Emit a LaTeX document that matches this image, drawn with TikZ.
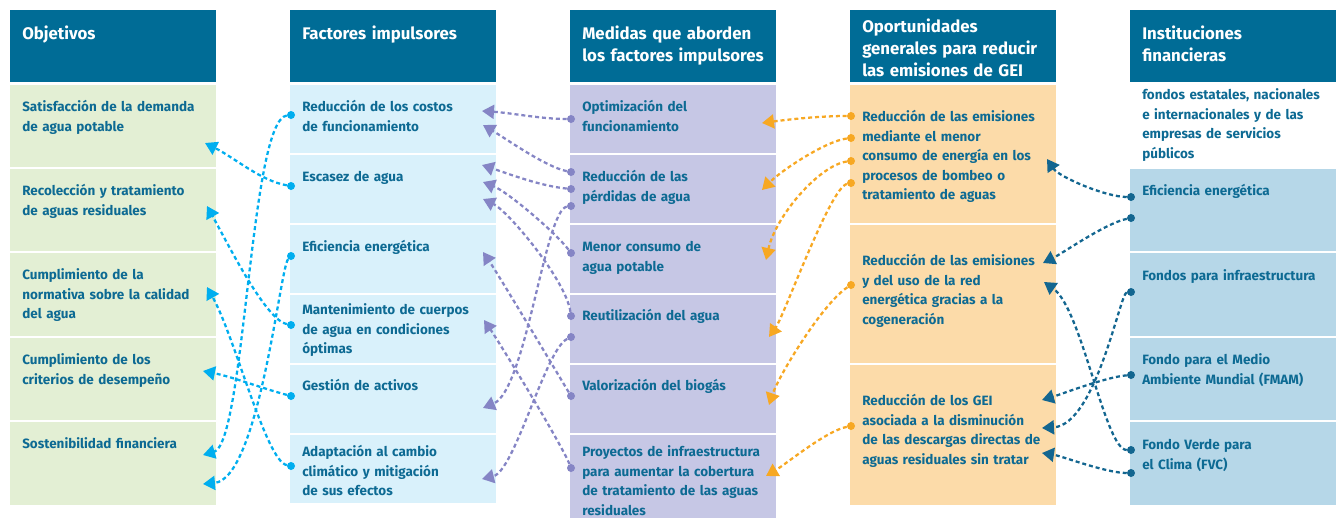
\documentclass[tikz,border=0pt]{standalone}
\usepackage{fontspec}
\setmainfont{Fira Sans}
\usetikzlibrary{arrows.meta}

\definecolor{headblue}{HTML}{006C96}
\definecolor{txtblue}{HTML}{0D6A93}
\definecolor{objgreen}{HTML}{E3EFD4}
\definecolor{facblue}{HTML}{D9F1FB}
\definecolor{medlav}{HTML}{C6C7E5}
\definecolor{opopeach}{HTML}{FCDBA9}
\definecolor{instblue}{HTML}{B6D7E8}
\definecolor{lncyan}{HTML}{00AEEF}
\definecolor{lnpurple}{HTML}{8585C5}
\definecolor{lnorange}{HTML}{F7A823}
\definecolor{lndark}{HTML}{136690}

\begin{document}
\begin{tikzpicture}[x=0.75pt, y=-0.75pt,
	headtxt/.style={anchor=base west, inner sep=0pt, text width=150pt, color=white, font=\fontsize{12.6}{16.5}\selectfont\bfseries},
	boxtxt/.style={anchor=base west, inner sep=0pt, text width=150pt, color=txtblue, font=\fontsize{10.1}{14.7}\selectfont\bfseries},
	dot/.style={circle, fill=#1, inner sep=0pt, minimum size=6pt},
	link/.style={color=#1, line width=1.7pt, dash pattern=on 3pt off 2.2pt, -{Triangle[length=9pt,width=10.5pt]}}]
	\useasboundingbox (0,0) rectangle (1336,518);
	\foreach \x in {10,290,570,850,1130}
	  \fill[headblue] (\x,10) rectangle ++(206,72);
	\foreach \y/\h in {85/82,169/82,253/83,338/82,422/83}
	  \fill[objgreen] (10,\y) rectangle ++(206,\h);
	\foreach \y in {85,155,225,295,365,435}
	  \fill[facblue] (290,\y) rectangle ++(206,68);
	\foreach \y/\h in {85/68,155/68,225/68,295/68,365/68,435/83}
	  \fill[medlav] (570,\y) rectangle ++(206,\h);
	\foreach \y/\h in {85/138,225/138,365/140}
	  \fill[opopeach] (850,\y) rectangle ++(206,\h);
	\foreach \y/\h in {169/82,253/83,338/82,422/83}
	  \fill[instblue] (1130,\y) rectangle ++(206,\h);

	\node[headtxt] (hobj) at (22,39.5) {Objetivos};
	\node[headtxt] (hfac) at (302,39.5) {Factores impulsores};
	\node[headtxt] (hmed) at (582,39.5) {Medidas que aborden\\los factores impulsores};
	\node[headtxt] (hopo) at (862,32.5) {Oportunidades\\generales para reducir\\las emisiones de GEI};
	\node[headtxt] (hinst) at (1142,39.5) {Instituciones\\financieras};

	\node[boxtxt] (obj1) at (22,111.5) {Satisfacción de la demanda\\de agua potable};
	\node[boxtxt] (obj2) at (22,195.5) {Recolección y tratamiento\\de aguas residuales};
	\node[boxtxt] (obj3) at (22,279.5) {Cumplimiento de la\\normativa sobre la calidad\\del agua};
	\node[boxtxt] (obj4) at (22,364.5) {Cumplimiento de los\\criterios de desempeño};
	\node[boxtxt] (obj5) at (22,448.5) {Sostenibilidad financiera};

	\node[boxtxt] (fac1) at (302,111.5) {Reducción de los costos\\de funcionamiento};
	\node[boxtxt] (fac2) at (302,181.5) {Escasez de agua};
	\node[boxtxt] (fac3) at (302,251.5) {Eficiencia energética};
	\node[boxtxt] (fac4) at (302,314.5) {Mantenimiento de cuerpos\\de agua en condiciones\\óptimas};
	\node[boxtxt] (fac5) at (302,390.5) {Gestión de activos};
	\node[boxtxt] (fac6) at (302,456.5) {Adaptación al cambio\\climático y mitigación\\de sus efectos};

	\node[boxtxt] (med1) at (582,111.5) {Optimización del\\funcionamiento};
	\node[boxtxt] (med2) at (582,181.5) {Reducción de las\\pérdidas de agua};
	\node[boxtxt] (med3) at (582,251.5) {Menor consumo de\\agua potable};
	\node[boxtxt] (med4) at (582,320.5) {Reutilización del agua};
	\node[boxtxt] (med5) at (582,390.5) {Valorización del biogás};
	\node[boxtxt] (med6) at (582,456.5) {Proyectos de infraestructura\\para aumentar la cobertura\\de tratamiento de las aguas\\residuales};

	\node[boxtxt] (opo1) at (862,121.5) {Reducción de las emisiones\\mediante el menor\\consumo de energía en los\\procesos de bombeo o\\tratamiento de aguas};
	\node[boxtxt] (opo2) at (862,265.5) {Reducción de las emisiones\\y del uso de la red\\energética gracias a la\\cogeneración};
	\node[boxtxt] (opo3) at (862,405.5) {Reducción de los GEI\\asociada a la disminución\\de las descargas directas de\\aguas residuales sin tratar};

	\node[boxtxt] (instnote) at (1142,99.5) {fondos estatales, nacionales\\e internacionales y de las\\empresas de servicios\\públicos};
	\node[boxtxt] (inst1) at (1142,195.5) {Eficiencia energética};
	\node[boxtxt] (inst2) at (1142,280.5) {Fondos para infraestructura};
	\node[boxtxt] (inst3) at (1142,364.5) {Fondo para el Medio\\Ambiente Mundial (FMAM)};
	\node[boxtxt] (inst4) at (1142,449.5) {Fondo Verde para\\el Clima (FVC)};

	\foreach \n/\y in {1/115,2/186,3/256,4/325,5/396,6/466}
	  \node[dot=lncyan] (c\n) at (291,\y) {};
	\foreach \n/\y in {1/119,2/172,3/189,4/206,5/253,6/316,7/337,8/396,9/468}
	  \node[dot=lnpurple] (p\n) at (571,\y) {};
	\foreach \n/\y in {1/116,2/138,3/161,4/183,5/285,6/426}
	  \node[dot=lnorange] (o\n) at (851,\y) {};
	\foreach \n/\y in {1/197,2/218,3/292,4/375,5/450,6/473}
	  \node[dot=lndark] (b\n) at (1131,\y) {};

	\coordinate (a1) at (205,143);
	\coordinate (a2) at (207,206);
	\coordinate (a3) at (207,287);
	\coordinate (a4) at (203,371);
	\coordinate (a5a) at (203,455);
	\coordinate (a5b) at (203,484);
	\foreach \n/\x/\y in {1/482/111,2/483/125,3/482/165,4/483/182,5/483/199,6/483/252,7/484/320,8/483/408,9/482/479}
	  \coordinate (q\n) at (\x,\y);
	\foreach \n/\x/\y in {1/762/123,2/762/190,3/766/260,4/769/337,5/769/405,6/766/476}
	  \coordinate (r\n) at (\x,\y);
	\foreach \n/\x/\y in {1/1047/159,2/1043/263,3/1044/282,4/1042/400,5/1042/428,6/1042/453}
	  \coordinate (s\n) at (\x,\y);

	\draw[link=lncyan] (c2) .. controls +(-30,-5) and +(30,15) .. (a1);
	\draw[link=lncyan] (c4) .. controls +(-25,-5) and +(22,40) .. (a2);
	\draw[link=lncyan] (c6) .. controls +(-25,-5) and +(28,50) .. (a3);
	\draw[link=lncyan] (c5) .. controls +(-30,-8) and +(30,6) .. (a4);
	\draw[link=lncyan] (c1) .. controls +(-41,5) and +(42,-12) .. (a5a);
	\draw[link=lncyan] (c3) .. controls +(-11,12) and +(56,-5) .. (a5b);

	\draw[link=lnpurple] (p1) .. controls +(-30,0) and +(30,2) .. (q1);
	\draw[link=lnpurple] (p2) .. controls +(-25,-5) and +(25,15) .. (q2);
	\draw[link=lnpurple] (p3) .. controls +(-30,-3) and +(30,10) .. (q3);
	\draw[link=lnpurple] (p5) .. controls +(-15,-20) and +(25,10) .. (q4);
	\draw[link=lnpurple] (p6) .. controls +(-5,-36) and +(25,12) .. (q5);
	\draw[link=lnpurple] (p8) .. controls +(-15,-25) and +(15,22) .. (q6);
	\draw[link=lnpurple] (p9) .. controls +(-10,-25) and +(15,22) .. (q7);
	\draw[link=lnpurple] (p4) .. controls +(-26,4) and +(43,-18) .. (q8);
	\draw[link=lnpurple] (p7) .. controls +(-26,13) and +(33,-8) .. (q9);

	\draw[link=lnorange] (o1) .. controls +(-30,0) and +(30,-4) .. (r1);
	\draw[link=lnorange] (o2) .. controls +(-25,3) and +(20,-20) .. (r2);
	\draw[link=lnorange] (o3) .. controls +(-31,4) and +(10,-45) .. (r3);
	\draw[link=lnorange] (o4) .. controls +(-21,5) and +(15,-21) .. (r4);
	\draw[link=lnorange] (o5) .. controls +(-28,18) and +(10,-30) .. (r5);
	\draw[link=lnorange] (o6) .. controls +(-25,5) and +(20,-12) .. (r6);

	\draw[link=lndark] (b1) .. controls +(-25,0) and +(12,18) .. (s1);
	\draw[link=lndark] (b2) .. controls +(-25,5) and +(20,-10) .. (s2);
	\draw[link=lndark] (b5) .. controls +(-26,0) and +(38,27) .. (s3);
	\draw[link=lndark] (b4) .. controls +(-25,2) and +(20,-6) .. (s4);
	\draw[link=lndark] (b3) .. controls +(-11,1) and +(54,-3) .. (s5);
	\draw[link=lndark] (b6) .. controls +(-25,0) and +(20,3) .. (s6);
\end{tikzpicture}
\end{document}
